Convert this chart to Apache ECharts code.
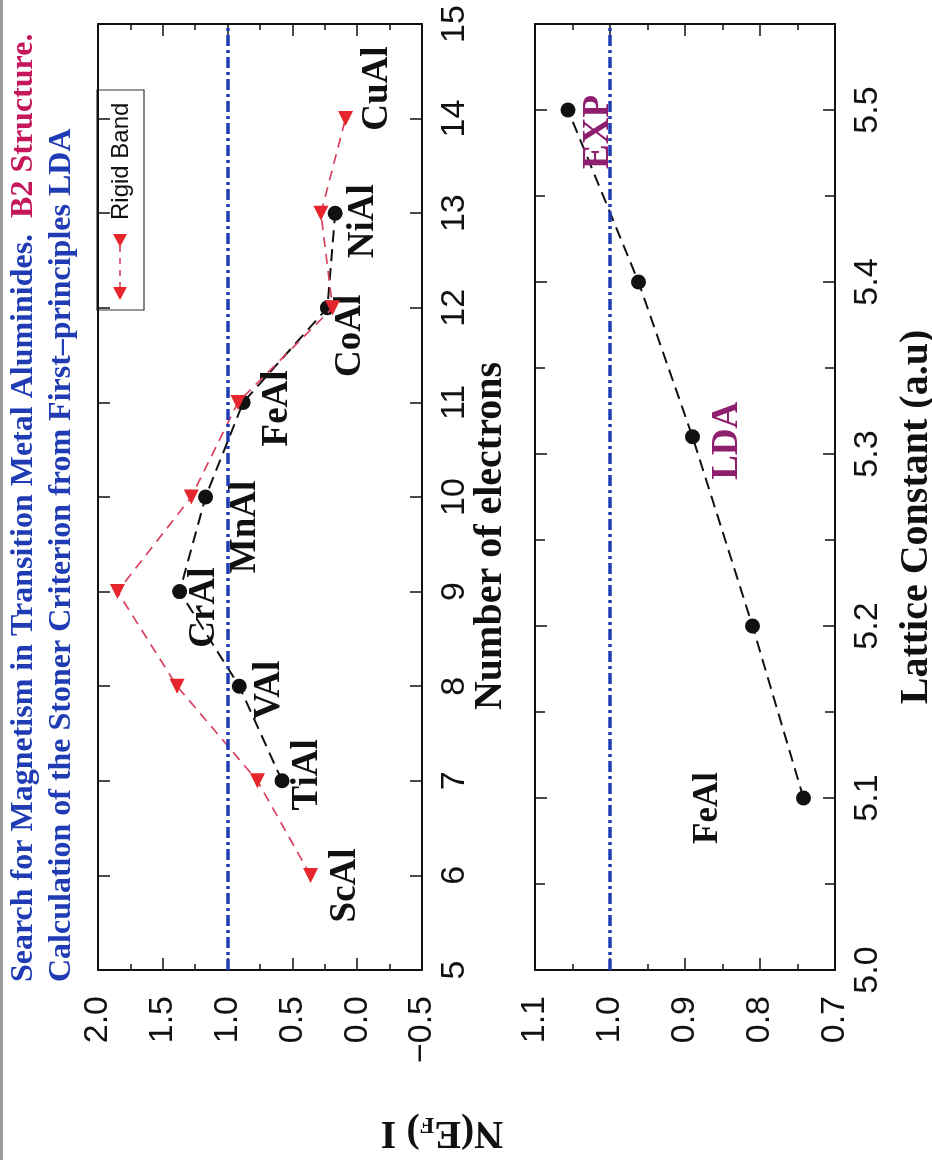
<!DOCTYPE html>
<html>
<head>
<meta charset="utf-8">
<title>Stoner criterion in B2 transition-metal aluminides</title>
<script src="https://cdn.jsdelivr.net/npm/echarts@6/dist/echarts.min.js"></script>
<style>
  html, body { margin: 0; padding: 0; background: #fff; }
  #chart { width: 932px; height: 1160px; }
</style>
</head>
<body>
<div id="chart"></div>
<script>
// ---- data -------------------------------------------------------------
// First-principles LDA values of N(E_F)·I for the B2 aluminides
const ldaElectrons = [7, 8, 9, 10, 11, 12, 13];
const ldaStoner    = [0.58, 0.91, 1.37, 1.17, 0.88, 0.23, 0.17];
const ldaNames     = ['TiAl', 'VAl', 'CrAl', 'MnAl', 'FeAl', 'CoAl', 'NiAl'];

// Rigid-band estimate
const rigidElectrons = [6, 7, 8, 9, 10, 11, 12, 13, 14];
const rigidStoner    = [0.36, 0.77, 1.39, 1.85, 1.28, 0.92, 0.19, 0.28, 0.09];
const rigidNames     = ['ScAl', '', '', '', '', '', '', '', 'CuAl'];

// FeAl: N(E_F)·I as a function of the lattice constant
const feAlLattice = [5.1, 5.2, 5.31, 5.4, 5.5];
const feAlStoner  = [0.742, 0.81, 0.89, 0.962, 1.056];
const feAlNotes   = ['', '', 'LDA', '', 'EXP'];

// Stoner threshold
const stonerThreshold = 1.0;

// ---- styling ----------------------------------------------------------
const INK = '#111';
const SERIF = '"Liberation Serif", "Times New Roman", serif';
const SANS = '"Liberation Sans", Arial, sans-serif';
const BLUE = '#1f3cb4';
const CRIMSON = '#c4175c';
const PLUM = '#8e1f6e';

// screen shift (right, down) of a label centre from its point;
// labels are turned 90° so the offset is given in the turned frame
const labelShift = {
  ScAl: [35, 10], TiAl: [25, -6], VAl: [30, 4], CrAl: [25, 16], MnAl: [40, 30],
  FeAl: [34, 6], CoAl: [23, 28], NiAl: [28, 8], CuAl: [32, -30],
  EXP: [30, 22], LDA: [35, 4]
};
function turnedOffset(s) { return [-s[1], s[0]]; }

function pointItem(x, y, name, color) {
  const item = { value: [x, y] };
  if (name) {
    item.label = {
      show: true,
      formatter: name,
      position: 'inside',
      rotate: 90,
      offset: turnedOffset(labelShift[name]),
      fontFamily: SERIF,
      fontWeight: 'bold',
      fontSize: 37,
      color: color
    };
  }
  return item;
}

function fmtStoner(v) {
  return (v < 0 ? '\u2212' : '') + Math.abs(v).toFixed(1);
}
function fmtLattice(v) {
  const k = Math.round(v * 10);
  return Math.abs(v * 10 - k) < 1e-6 && k <= 55 ? v.toFixed(1) : '';
}

function frameAxis(extra) {
  return Object.assign({
    type: 'value',
    axisLine: { show: true, onZero: false, lineStyle: { color: INK, width: 2 } },
    axisTick: { show: true, inside: true, length: 12, lineStyle: { color: INK, width: 1.5 } },
    minorTick: { show: false },
    splitLine: { show: false },
    axisLabel: { show: false }
  }, extra);
}
const tickLabel = (margin, formatter) => ({
  show: true, rotate: 90, margin: margin, formatter: formatter,
  fontFamily: SANS, fontSize: 34, color: INK
});
const minor = { show: true, splitNumber: 2, length: 6, lineStyle: { color: INK, width: 1.5 } };

const stonerLeft = { min: -0.5, max: 2.0, interval: 0.5, inverse: true };
const stonerRight = { min: 0.7, max: 1.1, interval: 0.1, inverse: true };
const electronAxis = { min: 5, max: 15, interval: 1 };
const latticeAxis = { min: 5.0, max: 5.55, interval: 0.1 };

const TITLE_FONT = 32;

const option = {
  animation: false,
  backgroundColor: '#fff',
  grid: [
    { left: 98, top: 24, width: 324, height: 946 },
    { left: 535, top: 24, width: 300, height: 946 }
  ],
  xAxis: [
    frameAxis(Object.assign({ gridIndex: 0, position: 'bottom', minorTick: minor,
      axisLabel: tickLabel(26, fmtStoner) }, stonerLeft)),
    frameAxis(Object.assign({ gridIndex: 0, position: 'top', minorTick: minor }, stonerLeft)),
    frameAxis(Object.assign({ gridIndex: 1, position: 'bottom', minorTick: minor,
      axisLabel: tickLabel(26, fmtStoner) }, stonerRight)),
    frameAxis(Object.assign({ gridIndex: 1, position: 'top', minorTick: minor }, stonerRight))
  ],
  yAxis: [
    frameAxis(Object.assign({ gridIndex: 0, position: 'right',
      axisLabel: tickLabel(16, v => String(v)) }, electronAxis)),
    frameAxis(Object.assign({ gridIndex: 0, position: 'left' }, electronAxis)),
    frameAxis(Object.assign({ gridIndex: 1, position: 'right',
      minorTick: Object.assign({}, minor, { length: 10 }),
      axisLabel: tickLabel(16, fmtLattice) }, latticeAxis)),
    frameAxis(Object.assign({ gridIndex: 1, position: 'left',
      minorTick: Object.assign({}, minor, { length: 10 }) }, latticeAxis))
  ],
  series: [
    // Stoner threshold in both panels
    {
      type: 'line', xAxisIndex: 0, yAxisIndex: 0, data: [], z: 1,
      markLine: {
        silent: true, symbol: 'none', label: { show: false },
        lineStyle: { color: BLUE, width: 3.5, type: [11, 4, 3, 4] },
        data: [{ xAxis: stonerThreshold }]
      }
    },
    {
      type: 'line', xAxisIndex: 2, yAxisIndex: 2, data: [], z: 1,
      markLine: {
        silent: true, symbol: 'none', label: { show: false },
        lineStyle: { color: BLUE, width: 3.5, type: [11, 4, 3, 4] },
        data: [{ xAxis: stonerThreshold }]
      }
    },
    {
      name: 'LDA', type: 'line', xAxisIndex: 0, yAxisIndex: 0, z: 3,
      symbol: 'circle', symbolSize: 15,
      itemStyle: { color: INK },
      lineStyle: { color: INK, width: 2, type: [12, 7] },
      data: ldaElectrons.map((n, i) => pointItem(ldaStoner[i], n, ldaNames[i], INK))
    },
    {
      name: 'Rigid Band', type: 'line', xAxisIndex: 0, yAxisIndex: 0, z: 4,
      symbol: 'triangle', symbolSize: 15, symbolRotate: 180,
      itemStyle: { color: '#e5262d' },
      lineStyle: { color: '#d9415e', width: 1.7, type: [10, 7] },
      data: rigidElectrons.map((n, i) => pointItem(rigidStoner[i], n, rigidNames[i], INK))
    },
    {
      name: 'FeAl', type: 'line', xAxisIndex: 2, yAxisIndex: 2, z: 3,
      symbol: 'circle', symbolSize: 15,
      itemStyle: { color: INK },
      lineStyle: { color: INK, width: 2, type: [12, 7] },
      data: feAlLattice.map((a, i) => pointItem(feAlStoner[i], a, feAlNotes[i], PLUM))
    }
  ],
  graphic: [
    { type: 'rect', left: 0, top: 0, shape: { width: 3, height: 1160 }, style: { fill: '#9a9a9a' } },
    // title, two lines
    {
      type: 'text', x: 24, y: 982, rotation: Math.PI / 2,
      style: {
        text: '{a|Search for Magnetism in Transition Metal Aluminides.}{b|  B2 Structure.}',
        align: 'left', verticalAlign: 'middle',
        rich: {
          a: { fill: BLUE, fontFamily: SERIF, fontWeight: 'bold', fontSize: TITLE_FONT },
          b: { fill: CRIMSON, fontFamily: SERIF, fontWeight: 'bold', fontSize: TITLE_FONT }
        }
      }
    },
    {
      type: 'text', x: 62, y: 982, rotation: Math.PI / 2,
      style: {
        text: 'Calculation of the Stoner Criterion from First\u2013principles LDA',
        align: 'left', verticalAlign: 'middle',
        fill: BLUE, font: 'bold ' + TITLE_FONT + 'px ' + SERIF
      }
    },
    // axis titles
    {
      type: 'text', x: 491, y: 536, rotation: Math.PI / 2,
      style: { text: 'Number of electrons', align: 'center', verticalAlign: 'middle',
        fill: INK, font: 'bold 40px ' + SERIF }
    },
    {
      type: 'text', x: 917, y: 517, rotation: Math.PI / 2,
      style: { text: 'Lattice Constant (a.u)', align: 'center', verticalAlign: 'middle',
        fill: INK, font: 'bold 40px ' + SERIF }
    },
    {
      type: 'text', x: 442, y: 1132, rotation: Math.PI,
      style: {
        text: '{n|N(E}{s|F}{n|) I}', align: 'center', verticalAlign: 'middle',
        rich: {
          n: { fill: INK, fontFamily: SERIF, fontWeight: 'bold', fontSize: 40 },
          s: { fill: INK, fontFamily: SERIF, fontWeight: 'bold', fontSize: 24, verticalAlign: 'bottom' }
        }
      }
    },
    // panel annotation
    {
      type: 'text', x: 708, y: 808, rotation: Math.PI / 2,
      style: { text: 'FeAl', align: 'center', verticalAlign: 'middle',
        fill: INK, font: 'bold 35px ' + SERIF }
    },
    // legend
    {
      type: 'group',
      children: [
        { type: 'rect', shape: { x: 97, y: 90, width: 47, height: 220 },
          style: { fill: '#fff', stroke: '#333', lineWidth: 1.2 } },
        { type: 'line', shape: { x1: 120, y1: 288, x2: 120, y2: 244 },
          style: { stroke: '#d9415e', lineWidth: 1.6, lineDash: [6, 6] } },
        { type: 'polygon', shape: { points: [[113, 287], [127, 287], [120, 300]] },
          style: { fill: '#e5262d' } },
        { type: 'polygon', shape: { points: [[113, 234], [127, 234], [120, 247]] },
          style: { fill: '#e5262d' } },
        { type: 'text', x: 121, y: 220, rotation: Math.PI / 2,
          style: { text: 'Rigid Band', align: 'left', verticalAlign: 'middle',
            fill: INK, font: '24px ' + SANS } }
      ]
    }
  ]
};

const chart = echarts.init(document.getElementById('chart'), null, { renderer: 'canvas' });
chart.setOption(option);
</script>
</body>
</html>
